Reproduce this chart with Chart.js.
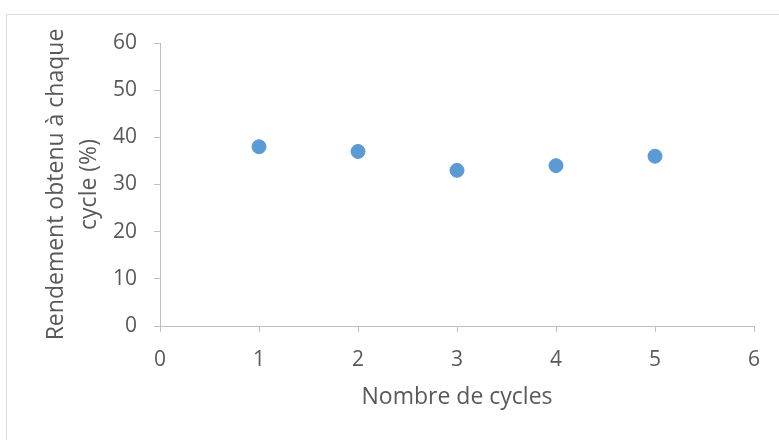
<!DOCTYPE html>
<html>
<head>
<meta charset="utf-8">
<script src="https://cdn.jsdelivr.net/npm/chart.js@4"></script>
<style>
  html, body { margin: 0; padding: 0; background: #fff; }
  #wrap { position: relative; width: 779px; height: 440px; }
</style>
</head>
<body>
<div id="wrap"><canvas id="myChart" width="779" height="440"></canvas></div>
<script>
var cycles = [1, 2, 3, 4, 5];
var rendement = [38, 37, 33, 34, 36];
var xTicks = [0, 1, 2, 3, 4, 5, 6];
var yTicks = [0, 10, 20, 30, 40, 50, 60];

var xTitle = 'Nombre de cycles';
var yTitle = ['Rendement obtenu à chaque', 'cycle (%)'];

var textColor = '#595959';
var axisColor = '#bfbfbf';
var fontFamily = '"Open Sans", "Liberation Sans", sans-serif';
var tickSize = 21;
var titleSize = 23;

var points = cycles.map(function(c, i) {
  return { x: c, y: rendement[i] };
});

// light frame around the chart, like the Excel chart border
var frame = {
  id: 'frame',
  beforeDraw: function(chart) {
    var c = chart.ctx;
    c.save();
    c.strokeStyle = '#d9d9d9';
    c.lineWidth = 1;
    c.strokeRect(6.5, 14.5, 800, 500);
    c.restore();
  }
};

var ctx = document.getElementById('myChart').getContext('2d');

new Chart(ctx, {
  type: 'scatter',
  data: {
    datasets: [{
      label: 'Rendement',
      data: points,
      backgroundColor: '#5b9bd5',
      borderColor: '#5b9bd5',
      borderWidth: 1,
      pointRadius: 7,
      pointHoverRadius: 7
    }]
  },
  options: {
    responsive: false,
    animation: false,
    layout: { padding: { top: 43, right: 25, left: 0, bottom: 0 } },
    plugins: {
      legend: { display: false },
      tooltip: { enabled: false }
    },
    scales: {
      x: {
        type: 'linear',
        min: xTicks[0],
        max: xTicks[xTicks.length - 1],
        afterBuildTicks: function(scale) {
          scale.ticks = xTicks.map(function(v) { return { value: v }; });
        },
        afterFit: function(scale) { scale.height = 114; },
        grid: { drawOnChartArea: false, drawTicks: true, tickLength: 6, color: axisColor },
        border: { color: axisColor, width: 1 },
        ticks: { color: textColor, font: { family: fontFamily, size: tickSize }, padding: 15 },
        title: {
          display: true,
          text: xTitle,
          color: textColor,
          font: { family: fontFamily, size: titleSize },
          padding: { top: 14, bottom: 29 }
        }
      },
      y: {
        type: 'linear',
        min: yTicks[0],
        max: yTicks[yTicks.length - 1],
        afterBuildTicks: function(scale) {
          scale.ticks = yTicks.map(function(v) { return { value: v }; });
        },
        afterFit: function(scale) { scale.width = 160; },
        grid: { drawOnChartArea: false, drawTicks: true, tickLength: 6, color: axisColor },
        border: { color: axisColor, width: 1 },
        ticks: { color: textColor, font: { family: fontFamily, size: tickSize }, padding: 17 },
        title: {
          display: true,
          text: yTitle,
          color: textColor,
          font: { family: fontFamily, size: titleSize, lineHeight: 1.435 },
          padding: { top: 40, bottom: 0 }
        }
      }
    }
  },
  plugins: [frame]
});
</script>
</body>
</html>
